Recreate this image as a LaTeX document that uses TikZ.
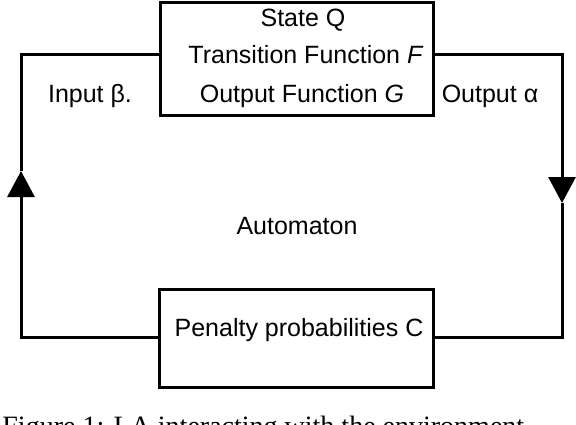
\documentclass[tikz,border=0pt]{standalone}
\usepackage{fontspec}
\setmainfont{Liberation Sans}
\newfontfamily\capfont{Liberation Serif}
\usetikzlibrary{arrows.meta}
\tikzset{
  box/.style={draw, line width=1.5pt, inner sep=0pt},
  wire/.style={line width=1.5pt},
  txt/.style={anchor=base, inner sep=0pt, font=\fontsize{12.5}{15}\selectfont},
  tip/.style={-{Triangle[width=13.5pt, length=13pt]}}
}
\begin{document}
\begin{tikzpicture}[x=0.5pt, y=-0.5pt]
  \useasboundingbox (0,0) rectangle (576,424);
  \clip (0,0) rectangle (576,424);
  % boxes
  \node[box, minimum width=136.5pt, minimum height=56.5pt] (auto) at (296.5,58.5) {};
  \node[box, minimum width=137pt, minimum height=49pt] (pen) at (296,338) {};
  % texts
  \node[txt] (stateq) at (303,26) {State Q};
  \node[txt] (trans) at (306,63) {Transition Function \textit{F}};
  \node[txt] (outf) at (302,102) {Output Function \textit{G}};
  \node[txt] (penalty) at (299,336) {Penalty probabilities C};
  \node[txt] (autom) at (297,234) {Automaton};
  \node[txt] (input) at (90,102) {Input β.};
  \node[txt] (output) at (490,102) {Output α};
  % loop corners
  \coordinate (cTL) at (21,54);
  \coordinate (cBL) at (21,337);
  \coordinate (cTR) at (562,54);
  \coordinate (cBR) at (562,337);
  \coordinate (aL) at (21,171);
  \coordinate (aR) at (562,203);
  \draw[wire, tip] (pen.west |- cBL) -- (cBL) -- (aL);
  \draw[wire] (aL) -- (cTL) -- (auto.west |- cTL);
  \draw[wire, tip] (auto.east |- cTR) -- (cTR) -- (aR);
  \draw[wire] (aR) -- (cBR) -- (pen.east |- cBR);
  % caption
  \node[anchor=base west, inner sep=0pt, font=\capfont\fontsize{14}{16}\selectfont] (caption) at (2,435) {Figure 1: LA interacting with the environment};
\end{tikzpicture}
\end{document}
